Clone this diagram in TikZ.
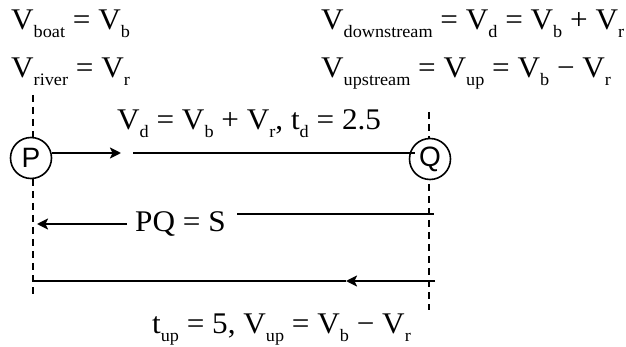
\documentclass[tikz,border=0pt]{standalone}
\usepackage{fontspec}
\setmainfont[FakeStretch=1.04]{Liberation Serif}
\newfontfamily\sansf{Liberation Sans}
\usetikzlibrary{arrows.meta}
\newcommand{\sbs}[1]{\raisebox{-8pt}{\fontsize{17.5}{17.5}\selectfont #1}}
\tikzset{
  eq/.style={inner sep=0pt, anchor=base west, font=\fontsize{30}{30}\selectfont},
  pt/.style={circle, draw, line width=1.6pt, fill=white, minimum size=41pt, inner sep=0pt, font=\sansf\fontsize{28}{28}\selectfont},
  dashln/.style={line width=1.6pt, dash pattern=on 7pt off 5pt},
  ln/.style={line width=2pt},
  arr/.style={line width=2pt, -{Stealth[length=11pt,width=11pt,inset=2.5pt]}}
}
\begin{document}
\begin{tikzpicture}[x=1pt,y=-1pt]
\useasboundingbox (0,0) rectangle (626,347);
% dashed verticals
\coordinate (lt) at (33,95);
\coordinate (lb) at (33,298);
\coordinate (rt) at (429,112);
\coordinate (rb) at (429,310);
\draw[dashln] (lt) -- (lb);
\draw[dashln] (rt) -- (rb);
% P and Q
\node[pt] (P) at (31,158) {P};
\node[pt] (Q) at (430,159) {Q};
% texts
\node[eq] (t1) at (11,30) {V\sbs{boat} = V\sbs{b}};
\node[eq] (t2) at (11,78) {V\sbs{river} = V\sbs{r}};
\node[eq] (t3) at (321,30) {V\sbs{downstream} = V\sbs{d} = V\sbs{b} + V\sbs{r}};
\node[eq] (t4) at (321,78) {V\sbs{upstream} = V\sbs{up} = V\sbs{b} − V\sbs{r}};
\node[eq] (t5) at (117,130) {V\sbs{d} = V\sbs{b} + V\sbs{r}, t\sbs{d} = 2.5};
\node[eq] (t6) at (135,232) {PQ = S};
\node[eq] (t7) at (152,333) {t\sbs{up} = 5, V\sbs{up} = V\sbs{b} − V\sbs{r}};
% top row
\coordinate (a1) at (121,153);
\coordinate (a2) at (133,153);
\coordinate (a3) at (415,153);
\draw[arr] (P.east |- a1) -- (a1);
\draw[ln] (a2) -- (a3);
% middle row
\coordinate (m1) at (127,224);
\coordinate (m2) at (37,224);
\coordinate (m3) at (237,214);
\coordinate (m4) at (434,214);
\draw[arr] (m1) -- (m2);
\draw[ln] (m3) -- (m4);
% bottom row
\coordinate (b1) at (435,281);
\coordinate (b2) at (346,281);
\coordinate (b3) at (33,281);
\draw[arr] (b1) -- (b2);
\draw[line width=2.5pt] (b2) -- (b3);
\end{tikzpicture}
\end{document}
